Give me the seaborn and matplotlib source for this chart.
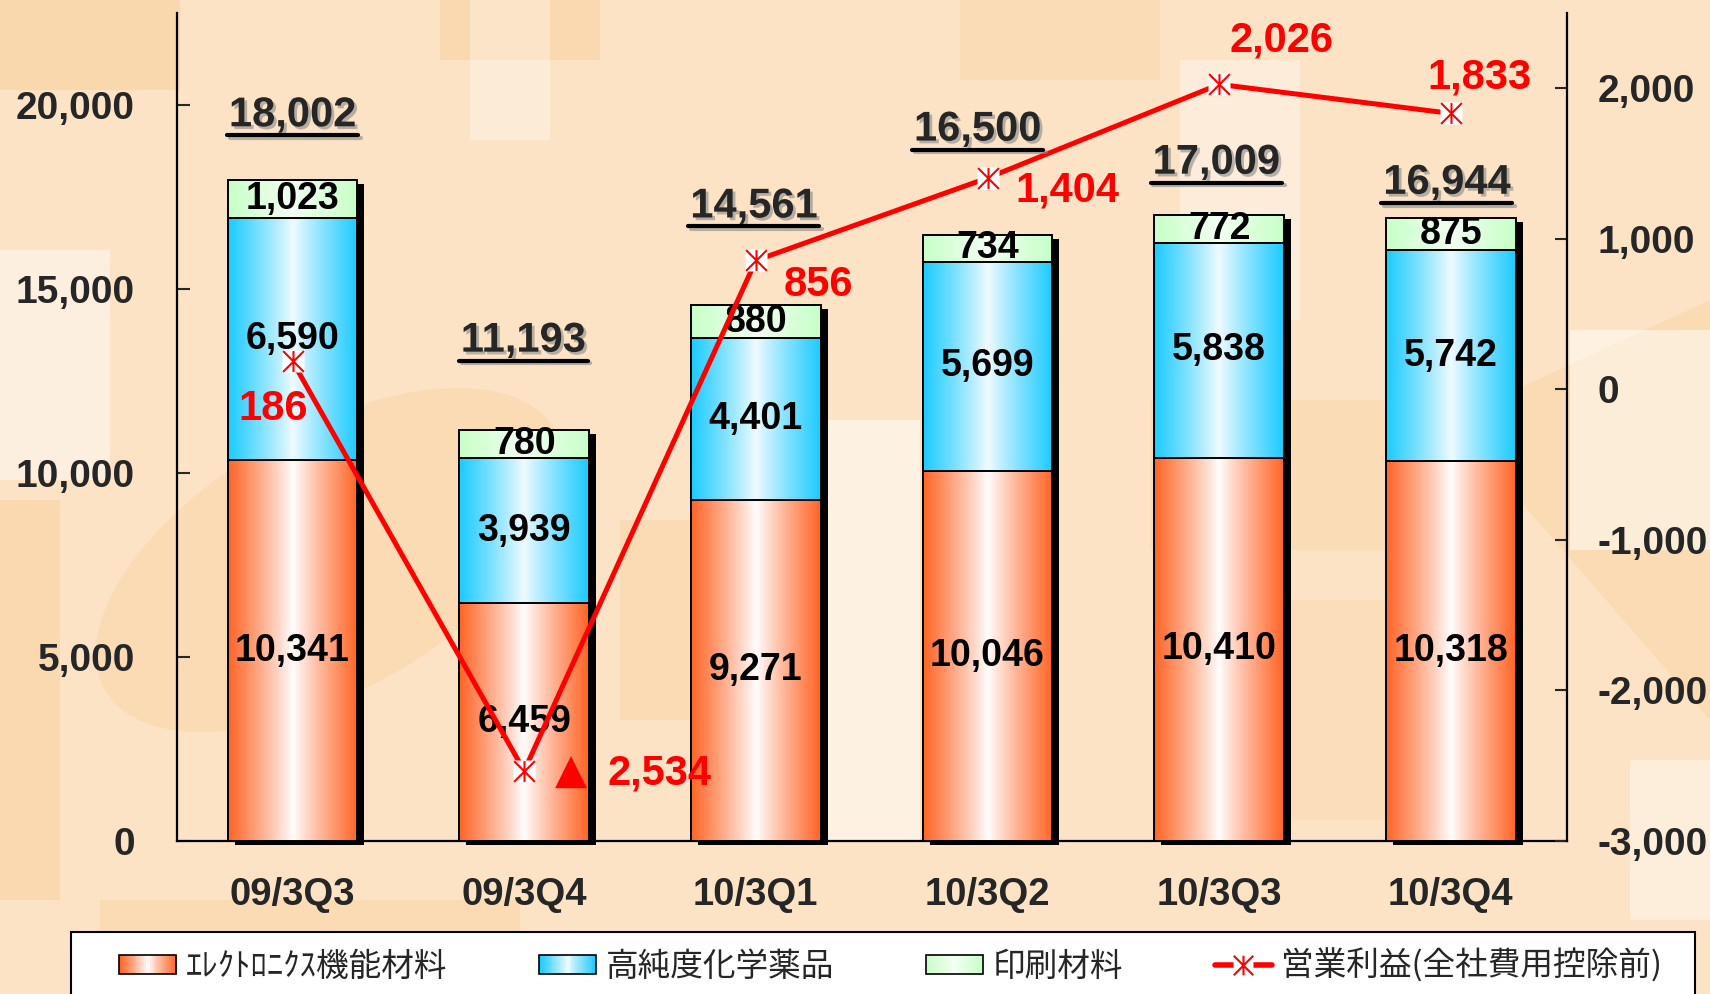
import numpy as np
import pandas as pd
import matplotlib
matplotlib.use('Agg')
import matplotlib.pyplot as plt
import matplotlib.patheffects as pe
import matplotlib.transforms as mtransforms
from matplotlib.colors import to_rgb
from matplotlib.patches import Rectangle, Ellipse, Polygon
from matplotlib.lines import Line2D
from matplotlib.path import Path
from matplotlib.legend_handler import HandlerBase, HandlerTuple
import seaborn as sns

# データ（百万円）
quarters = ['09/3Q3', '09/3Q4', '10/3Q1', '10/3Q2', '10/3Q3', '10/3Q4']
electronics = [10341, 6459, 9271, 10046, 10410, 10318]
chemicals = [6590, 3939, 4401, 5699, 5838, 5742]
printing = [1023, 780, 880, 734, 772, 875]
totals = [18002, 11193, 14561, 16500, 17009, 16944]
op_profit = [186, -2534, 856, 1404, 2026, 1833]
left_ticks = [0, 5000, 10000, 15000, 20000]
right_ticks = [-3000, -2000, -1000, 0, 1000, 2000]
series_names = ['ｴﾚｸﾄﾛﾆｸｽ機能材料', '高純度化学薬品', '印刷材料', '営業利益(全社費用控除前)']

# ラベル位置の調整（ピクセル）
total_offsets = [(0, 65), (-1, 89), (-2, 99), (-10, 105), (-3, 52), (-4, 35)]
profit_offsets = [(-19, -48), (135, -3), (63, -25), (80, -13), (62, 44), (29, 36)]

sns.set_style('white')
plt.rcParams['font.family'] = ['Liberation Sans', 'Noto Sans CJK JP', 'DejaVu Sans']

RED = ('#FF6628', '#FFFFFF')
BLUE = ('#1ECBFF', '#F2FBFF')
GREEN = ('#C8FFC8', '#F4FFF4')


def grad(edge, mid, n=64):
    t = np.linspace(0, 1, n)
    m = np.abs(2 * t - 1) ** 0.9
    e, c = np.array(to_rgb(edge)), np.array(to_rgb(mid))
    return c[None, :] * (1 - m[:, None]) + e[None, :] * m[:, None]


fig = plt.figure(figsize=(17.1, 9.94), dpi=100)
fig.patch.set_facecolor('#FCE3C5')

# 背景の透かし模様
bg = fig.add_axes([0, 0, 1, 1], zorder=-5)
bg.set_xlim(0, 1710)
bg.set_ylim(994, 0)
bg.axis('off')
dark = '#F8C98C'
for (x, y, w, h, a) in [(0, 0, 180, 90, .4), (440, 0, 160, 60, .35), (0, 500, 60, 400, .35),
                        (620, 520, 150, 200, .3), (1150, 400, 300, 150, .25), (100, 900, 420, 60, .3),
                        (960, 0, 200, 80, .25), (1250, 600, 200, 220, .2)]:
    bg.add_patch(Rectangle((x, y), w, h, color=dark, alpha=a, lw=0))
bg.add_patch(Ellipse((330, 560), 520, 260, angle=-30, color=dark, alpha=.3, lw=0))
bg.add_patch(Polygon([(1450, 420), (1710, 300), (1710, 720)], color=dark, alpha=.3, lw=0))
for (x, y, w, h, a) in [(0, 250, 110, 230, .45), (825, 420, 95, 420, .5), (1570, 330, 140, 220, .5),
                        (1180, 60, 120, 260, .35), (470, 0, 80, 140, .3), (1630, 760, 80, 160, .4)]:
    bg.add_patch(Rectangle((x, y), w, h, color='white', alpha=a, lw=0))

ax = fig.add_axes([176.7 / 1710, 1 - 841 / 994, 1390 / 1710, 828 / 994])
ax.patch.set_alpha(0)

bar_w = 0.56
lvl2 = [a + b for a, b in zip(electronics, chemicals)]
lvl3 = [a + b for a, b in zip(lvl2, printing)]

# 影
n0 = len(ax.patches)
sns.barplot(x=quarters, y=lvl3, ax=ax, width=bar_w, color='black', saturation=1,
            errorbar=None, linewidth=0, zorder=1)
shift = mtransforms.ScaledTranslation(7 / 100, -4 / 100, fig.dpi_scale_trans)
for p in ax.patches[n0:]:
    p.set_transform(ax.transData + shift)
    p.set_clip_on(False)

# 積み上げ棒（グラデーション）
for vals, cols, z in [(lvl3, GREEN, 2), (lvl2, BLUE, 3), (electronics, RED, 4)]:
    n0 = len(ax.patches)
    sns.barplot(x=quarters, y=vals, ax=ax, width=bar_w, color='white', saturation=1,
                edgecolor='black', linewidth=1.4, errorbar=None, zorder=z + 0.1)
    g = grad(*cols)[None, :, :]
    for p in ax.patches[n0:]:
        p.set_facecolor('none')
        x0, y0, w, h = p.get_x(), p.get_y(), p.get_width(), p.get_height()
        ax.imshow(g, extent=(x0, x0 + w, y0, y0 + h), aspect='auto',
                  interpolation='bilinear', zorder=z)

ax.set_xlim(-0.5, len(quarters) - 0.5)
ax.set_ylim(0, 22500)

# 棒内ラベル
for i in range(len(quarters)):
    for v, base in [(electronics[i], 0), (chemicals[i], electronics[i]), (printing[i], lvl2[i])]:
        ax.text(i, base + v / 2, f'{v:,}', ha='center', va='center', fontsize=27,
                fontweight='bold', color='black', zorder=6)

# 合計ラベル（下線・影付き）
shadow = [pe.SimplePatchShadow(offset=(2, -2), shadow_rgbFace='#888888', alpha=0.6), pe.Normal()]
total_texts = []
for i, (t, h, off) in enumerate(zip(totals, lvl3, total_offsets)):
    tt = ax.annotate(f'{t:,}', xy=(i, h), xytext=off, textcoords='offset pixels',
                     ha='center', va='center', fontsize=30, fontweight='bold', zorder=6,
                     path_effects=shadow)
    total_texts.append(tt)

ax.set_yticks(left_ticks)
ax.set_yticklabels([f'{v:,}' for v in left_ticks])
ax.set_xticks(range(len(quarters)))
ax.set_xticklabels(quarters)
ax.set_xticks(np.arange(0.5, len(quarters) - 0.5, 1), minor=True)
ax.tick_params(axis='y', direction='in', length=9, width=1.5, labelsize=28, pad=30)
ax.tick_params(axis='x', which='major', length=0, labelsize=27.5, pad=26)
ax.tick_params(axis='x', which='minor', direction='in', length=10, width=1.3)
for lab in ax.get_xticklabels() + ax.get_yticklabels():
    lab.set_fontweight('bold')
ax.set_xlabel('')
ax.set_ylabel('')
for s in ['top', 'right']:
    ax.spines[s].set_visible(False)
for s in ['left', 'bottom']:
    ax.spines[s].set_color('black')
    ax.spines[s].set_linewidth(1.6)

# 営業利益（右軸）
ax2 = ax.twinx()
xpos = np.arange(len(quarters))
sns.lineplot(x=xpos, y=op_profit, ax=ax2, color='#FF0000', linewidth=3.6, zorder=2)
star = Path([(0, -1), (0, 1), (-1, -1), (1, 1), (-1, 1), (1, -1)],
            [Path.MOVETO, Path.LINETO, Path.MOVETO, Path.LINETO, Path.MOVETO, Path.LINETO])
ax2.plot(xpos, op_profit, ls='none', marker='s', ms=16, mfc='white', mec='none', zorder=3)
ax2.plot(xpos, op_profit, ls='none', marker=star, ms=15, mfc='none', mec='#FF0000', mew=1.5, zorder=4)
for i, (v, off) in enumerate(zip(op_profit, profit_offsets)):
    ax2.annotate(f'{abs(v):,}', xy=(i, v), xytext=off, textcoords='offset pixels', ha='center',
                 va='center', fontsize=30, fontweight='bold', color='#FF0000', zorder=5)
    if v < 0:
        ax2.annotate('▲', xy=(i, v), xytext=(off[0] - 88, off[1] + 2), textcoords='offset pixels',
                     ha='center', va='center', fontsize=30, color='#FF0000', zorder=5,
                     family=['DejaVu Sans'])
ax2.set_ylim(-3000, 2500)
ax2.set_yticks(right_ticks)
ax2.set_yticklabels([f'{v:,}' for v in right_ticks])
ax2.tick_params(axis='y', direction='in', length=9, width=1.5, labelsize=28, pad=22)
for lab in ax2.get_yticklabels():
    lab.set_fontweight('bold')
ax2.set_ylabel('')
for s in ['top', 'left', 'bottom']:
    ax2.spines[s].set_visible(False)
ax2.spines['right'].set_color('black')
ax2.spines['right'].set_linewidth(1.6)


# 凡例
class GradHandler(HandlerBase):
    def __init__(self, cols):
        super().__init__()
        self.cols = grad(*cols, n=30)

    def create_artists(self, legend, orig_handle, xdescent, ydescent, width, height, fontsize, trans):
        arts = []
        n = len(self.cols)
        for k, c in enumerate(self.cols):
            arts.append(Rectangle((-xdescent + width * k / n, -ydescent), width / n * 1.05, height,
                                  facecolor=c, edgecolor='none', transform=trans))
        arts.append(Rectangle((-xdescent, -ydescent), width, height, facecolor='none',
                              edgecolor='black', lw=1.2, transform=trans))
        return arts


h_red, h_blue, h_green = Rectangle((0, 0), 1, 1), Rectangle((0, 0), 1, 1), Rectangle((0, 0), 1, 1)
h_line = (Line2D([], [], color='#FF0000', lw=4),
          Line2D([], [], ls='none', marker='s', ms=15, mfc='white', mec='none'),
          Line2D([], [], ls='none', marker=star, ms=14, mfc='none', mec='#FF0000', mew=1.5))
fig.add_artist(Rectangle((71 / 1710, -0.05), (1695 - 71) / 1710, 0.05 + (994 - 932) / 994,
                         transform=fig.transFigure, facecolor='white', edgecolor='black', lw=1.5))
fig.legend([h_red, h_blue, h_green, h_line], series_names, loc='center left',
           bbox_to_anchor=(103 / 1710, 1 - 966 / 994), ncol=4, frameon=False, borderpad=0,
           handlelength=1.75, handleheight=0.55, handletextpad=0.3, columnspacing=2.8,
           prop={'family': ['Noto Sans CJK JP', 'DejaVu Sans'], 'size': 23.5},
           handler_map={h_red: GradHandler(RED), h_blue: GradHandler(BLUE),
                        h_green: GradHandler(GREEN), tuple: HandlerTuple(ndivide=1)})

# 合計ラベルの下線
fig.canvas.draw()
for tt in total_texts:
    bb = tt.get_window_extent()
    yc = (bb.y0 + bb.y1) / 2 - 20
    fig.add_artist(Line2D([bb.x0 - 2, bb.x1 + 2], [yc, yc], color='black', lw=3,
                          transform=mtransforms.IdentityTransform(),
                          path_effects=[pe.SimpleLineShadow(offset=(2, -2), shadow_color='#888888', alpha=0.6),
                                        pe.Normal()]))

fig.savefig('out.png', dpi=100, facecolor=fig.get_facecolor())
